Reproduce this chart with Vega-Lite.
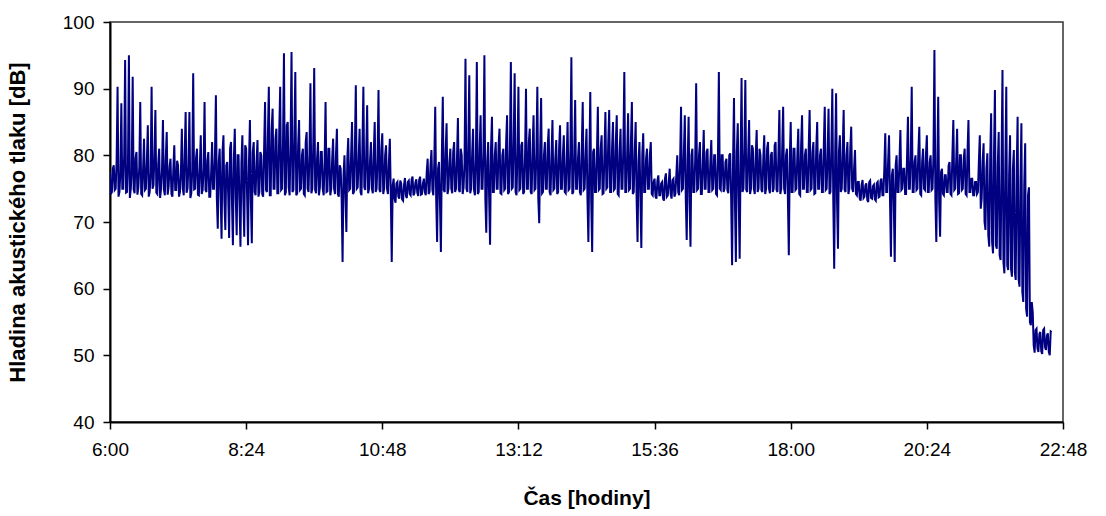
{
"$schema": "https://vega.github.io/schema/vega-lite/v6.json",
"autosize": "none",
"width": 953,
"height": 400,
"padding": {"left": 110, "top": 22, "right": 43, "bottom": 94},
"background": "white",
"config": {
  "font": "Liberation Sans",
  "view": {"stroke": "#333333", "strokeWidth": 1.5},
  "axis": {"labelFont": "Liberation Sans", "titleFont": "Liberation Sans", "labelFontSize": 19, "titleFontSize": 21, "titleFontWeight": "bold", "labelColor": "#000", "titleColor": "#000", "domainColor": "#000", "domainWidth": 2, "tickColor": "#000", "tickWidth": 1.5, "tickSize": 7, "grid": false}
},
"data": {"values": [
{"t":360,"v":77.5},{"t":361,"v":74.2},{"t":362,"v":74.5},{"t":363,"v":78},
{"t":364,"v":78.5},{"t":365,"v":74.8},{"t":366,"v":75},{"t":367,"v":79.2},
{"t":368,"v":90.3},{"t":369,"v":73.8},{"t":370,"v":74.5},{"t":371,"v":77.5},
{"t":372,"v":87.8},{"t":373,"v":75},{"t":374,"v":75},{"t":375,"v":80},
{"t":376,"v":94.3},{"t":377,"v":74.4},{"t":378,"v":74.5},{"t":379,"v":78.6},
{"t":380,"v":95},{"t":381,"v":73.6},{"t":382,"v":75},{"t":383,"v":77.8},
{"t":384,"v":91.8},{"t":385,"v":74.9},{"t":386,"v":74.3},{"t":387,"v":79.6},
{"t":388,"v":80.5},{"t":389,"v":74.1},{"t":390,"v":75.2},{"t":391,"v":78.3},
{"t":392,"v":88},{"t":393,"v":74.2},{"t":394,"v":74},{"t":395,"v":78},
{"t":396,"v":82.5},{"t":397,"v":74.8},{"t":398,"v":75},{"t":399,"v":79.2},
{"t":400,"v":84.5},{"t":401,"v":73.8},{"t":402,"v":74.5},{"t":403,"v":77.5},
{"t":404,"v":90.3},{"t":405,"v":75},{"t":406,"v":75.5},{"t":407,"v":80},
{"t":408,"v":86.8},{"t":409,"v":74.4},{"t":410,"v":74.2},{"t":411,"v":78.6},
{"t":412,"v":81},{"t":413,"v":73.6},{"t":414,"v":75},{"t":415,"v":77.8},
{"t":416,"v":85.3},{"t":417,"v":74.9},{"t":418,"v":74},{"t":419,"v":79.6},
{"t":420,"v":83.5},{"t":421,"v":74.1},{"t":422,"v":75.3},{"t":423,"v":78.3},
{"t":424,"v":79.5},{"t":425,"v":74.2},{"t":426,"v":73.8},{"t":427,"v":78},
{"t":428,"v":81.5},{"t":429,"v":74.8},{"t":430,"v":74.8},{"t":431,"v":79.2},
{"t":432,"v":78.5},{"t":433,"v":73.8},{"t":434,"v":74.5},{"t":435,"v":77.5},
{"t":436,"v":84},{"t":437,"v":75},{"t":438,"v":74},{"t":439,"v":80},
{"t":440,"v":86.5},{"t":441,"v":74.4},{"t":442,"v":75},{"t":443,"v":78.6},
{"t":444,"v":86.5},{"t":445,"v":73.6},{"t":446,"v":74.3},{"t":447,"v":77.8},
{"t":448,"v":92.3},{"t":449,"v":74.9},{"t":450,"v":75},{"t":451,"v":79.6},
{"t":452,"v":81},{"t":453,"v":74.1},{"t":454,"v":74},{"t":455,"v":78.3},
{"t":456,"v":83},{"t":457,"v":74.2},{"t":458,"v":74.8},{"t":459,"v":78},
{"t":460,"v":88},{"t":461,"v":74.8},{"t":462,"v":74.5},{"t":463,"v":79.2},
{"t":464,"v":80.5},{"t":465,"v":73.8},{"t":466,"v":73.8},{"t":467,"v":77.5},
{"t":468,"v":82},{"t":469,"v":75},{"t":470,"v":75},{"t":471,"v":80},
{"t":472,"v":89},{"t":473,"v":73.5},{"t":474,"v":69},{"t":475,"v":79},
{"t":476,"v":81},{"t":477,"v":74},{"t":478,"v":67.5},{"t":479,"v":80.5},
{"t":480,"v":83},{"t":481,"v":73.2},{"t":482,"v":68.8},{"t":483,"v":78.5},
{"t":484,"v":79},{"t":485,"v":74.2},{"t":486,"v":67.6},{"t":487,"v":81},
{"t":488,"v":82},{"t":489,"v":73},{"t":490,"v":66.5},{"t":491,"v":79.5},
{"t":492,"v":84},{"t":493,"v":73.8},{"t":494,"v":68},{"t":495,"v":80},
{"t":496,"v":80},{"t":497,"v":72.5},{"t":498,"v":66.3},{"t":499,"v":78.8},
{"t":500,"v":83},{"t":501,"v":73.5},{"t":502,"v":67.8},{"t":503,"v":81.5},
{"t":504,"v":81},{"t":505,"v":74},{"t":506,"v":66.5},{"t":507,"v":79},
{"t":508,"v":85.3},{"t":509,"v":73.2},{"t":510,"v":66.8},{"t":511,"v":80.5},
{"t":512,"v":82},{"t":513,"v":74.5},{"t":514,"v":74},{"t":515,"v":79},
{"t":516,"v":82.3},{"t":517,"v":73.8},{"t":518,"v":74.5},{"t":519,"v":80.5},
{"t":520,"v":80},{"t":521,"v":74.2},{"t":522,"v":73.8},{"t":523,"v":81},
{"t":524,"v":88},{"t":525,"v":74.8},{"t":526,"v":74.5},{"t":527,"v":83},
{"t":528,"v":90.3},{"t":529,"v":74},{"t":530,"v":74},{"t":531,"v":84},
{"t":532,"v":87},{"t":533,"v":75},{"t":534,"v":75},{"t":535,"v":82.5},
{"t":536,"v":84},{"t":537,"v":74.3},{"t":538,"v":74.3},{"t":539,"v":83.5},
{"t":540,"v":90.3},{"t":541,"v":74.8},{"t":542,"v":75},{"t":543,"v":82},
{"t":544,"v":95.3},{"t":545,"v":74},{"t":546,"v":74.5},{"t":547,"v":84.5},
{"t":548,"v":85},{"t":549,"v":75.2},{"t":550,"v":74},{"t":551,"v":82},
{"t":552,"v":95.5},{"t":553,"v":74.5},{"t":554,"v":74.8},{"t":555,"v":83},
{"t":556,"v":92.5},{"t":557,"v":74},{"t":558,"v":74.3},{"t":559,"v":81.5},
{"t":560,"v":85.3},{"t":561,"v":74.8},{"t":562,"v":75},{"t":563,"v":80},
{"t":564,"v":81},{"t":565,"v":74.2},{"t":566,"v":74},{"t":567,"v":82},
{"t":568,"v":83.5},{"t":569,"v":75},{"t":570,"v":74.5},{"t":571,"v":80.5},
{"t":572,"v":90.8},{"t":573,"v":74.3},{"t":574,"v":75},{"t":575,"v":81.5},
{"t":576,"v":93.1},{"t":577,"v":74.8},{"t":578,"v":74.3},{"t":579,"v":79.5},
{"t":580,"v":82},{"t":581,"v":74},{"t":582,"v":75.2},{"t":583,"v":80.5},
{"t":584,"v":80.5},{"t":585,"v":75},{"t":586,"v":74},{"t":587,"v":79},
{"t":588,"v":88},{"t":589,"v":74.5},{"t":590,"v":74.6},{"t":591,"v":81},
{"t":592,"v":81},{"t":593,"v":74},{"t":594,"v":75},{"t":595,"v":79.5},
{"t":596,"v":82.5},{"t":597,"v":75},{"t":598,"v":74.2},{"t":599,"v":80},
{"t":600,"v":84},{"t":601,"v":74.2},{"t":602,"v":73.8},{"t":603,"v":78.5},
{"t":604,"v":78},{"t":605,"v":73.5},{"t":606,"v":64},{"t":607,"v":77},
{"t":608,"v":80},{"t":609,"v":74},{"t":610,"v":68.5},{"t":611,"v":79.5},
{"t":612,"v":82.6},{"t":613,"v":74.8},{"t":614,"v":75},{"t":615,"v":80},
{"t":616,"v":85},{"t":617,"v":74.2},{"t":618,"v":74.5},{"t":619,"v":81},
{"t":620,"v":90.5},{"t":621,"v":75},{"t":622,"v":75.2},{"t":623,"v":79.5},
{"t":624,"v":84},{"t":625,"v":74.5},{"t":626,"v":74},{"t":627,"v":81.5},
{"t":628,"v":90.3},{"t":629,"v":75.2},{"t":630,"v":74.8},{"t":631,"v":80},
{"t":632,"v":87.5},{"t":633,"v":74.3},{"t":634,"v":75},{"t":635,"v":79},
{"t":636,"v":82},{"t":637,"v":75},{"t":638,"v":74.3},{"t":639,"v":80.5},
{"t":640,"v":85},{"t":641,"v":74.5},{"t":642,"v":75},{"t":643,"v":79.5},
{"t":644,"v":89.8},{"t":645,"v":74.8},{"t":646,"v":74.5},{"t":647,"v":81},
{"t":648,"v":83.3},{"t":649,"v":74.2},{"t":650,"v":75},{"t":651,"v":80},
{"t":652,"v":81.5},{"t":653,"v":75},{"t":654,"v":74.2},{"t":655,"v":79},
{"t":656,"v":82.5},{"t":657,"v":74},{"t":658,"v":64},{"t":659,"v":75.5},
{"t":660,"v":76.5},{"t":661,"v":73.5},{"t":662,"v":72.9},{"t":663,"v":75.8},
{"t":664,"v":76},{"t":665,"v":73.8},{"t":666,"v":73.5},{"t":667,"v":76.2},
{"t":668,"v":75.8},{"t":669,"v":73.4},{"t":670,"v":73.2},{"t":671,"v":75.6},
{"t":672,"v":76.6},{"t":673,"v":73.9},{"t":674,"v":73.6},{"t":675,"v":76},
{"t":676,"v":76.2},{"t":677,"v":74.2},{"t":678,"v":74},{"t":679,"v":76.4},
{"t":680,"v":76.8},{"t":681,"v":74},{"t":682,"v":74.3},{"t":683,"v":75.9},
{"t":684,"v":76.4},{"t":685,"v":74.4},{"t":686,"v":73.9},{"t":687,"v":76.3},
{"t":688,"v":76.8},{"t":689,"v":74.1},{"t":690,"v":74.2},{"t":691,"v":75.8},
{"t":692,"v":76.5},{"t":693,"v":74.5},{"t":694,"v":74},{"t":695,"v":77.5},
{"t":696,"v":79.5},{"t":697,"v":74.2},{"t":698,"v":74.5},{"t":699,"v":78.5},
{"t":700,"v":80.8},{"t":701,"v":74.8},{"t":702,"v":74},{"t":703,"v":79},
{"t":704,"v":87.3},{"t":705,"v":73.5},{"t":706,"v":67},{"t":707,"v":78},
{"t":708,"v":79},{"t":709,"v":73},{"t":710,"v":65.5},{"t":711,"v":80},
{"t":712,"v":88.8},{"t":713,"v":74.8},{"t":714,"v":74.5},{"t":715,"v":80.5},
{"t":716,"v":84.8},{"t":717,"v":74.2},{"t":718,"v":75},{"t":719,"v":79},
{"t":720,"v":81},{"t":721,"v":75},{"t":722,"v":74.3},{"t":723,"v":80.5},
{"t":724,"v":82},{"t":725,"v":74.5},{"t":726,"v":75},{"t":727,"v":79.5},
{"t":728,"v":85.6},{"t":729,"v":74.8},{"t":730,"v":74.5},{"t":731,"v":81},
{"t":732,"v":80},{"t":733,"v":74.2},{"t":734,"v":75.2},{"t":735,"v":79},
{"t":736,"v":94.5},{"t":737,"v":75},{"t":738,"v":74.5},{"t":739,"v":81.5},
{"t":740,"v":92},{"t":741,"v":74.3},{"t":742,"v":75},{"t":743,"v":80},
{"t":744,"v":84},{"t":745,"v":74.8},{"t":746,"v":74},{"t":747,"v":79.5},
{"t":748,"v":94},{"t":749,"v":74.2},{"t":750,"v":74.5},{"t":751,"v":81},
{"t":752,"v":86},{"t":753,"v":75},{"t":754,"v":75},{"t":755,"v":80.5},
{"t":756,"v":95},{"t":757,"v":73.5},{"t":758,"v":68.4},{"t":759,"v":79},
{"t":760,"v":82},{"t":761,"v":73.8},{"t":762,"v":66.6},{"t":763,"v":81},
{"t":764,"v":85.8},{"t":765,"v":74.5},{"t":766,"v":74.5},{"t":767,"v":80},
{"t":768,"v":82},{"t":769,"v":75},{"t":770,"v":75},{"t":771,"v":81.5},
{"t":772,"v":84},{"t":773,"v":74.3},{"t":774,"v":74.2},{"t":775,"v":80},
{"t":776,"v":81},{"t":777,"v":74.8},{"t":778,"v":75},{"t":779,"v":82},
{"t":780,"v":86},{"t":781,"v":74.2},{"t":782,"v":74.5},{"t":783,"v":81},
{"t":784,"v":94},{"t":785,"v":75},{"t":786,"v":75.2},{"t":787,"v":82.5},
{"t":788,"v":92.3},{"t":789,"v":74.5},{"t":790,"v":74},{"t":791,"v":80.5},
{"t":792,"v":90.3},{"t":793,"v":74.8},{"t":794,"v":75},{"t":795,"v":81.5},
{"t":796,"v":82},{"t":797,"v":74.2},{"t":798,"v":74.5},{"t":799,"v":80},
{"t":800,"v":90},{"t":801,"v":75},{"t":802,"v":75},{"t":803,"v":82},
{"t":804,"v":84},{"t":805,"v":74.5},{"t":806,"v":74.2},{"t":807,"v":81},
{"t":808,"v":86},{"t":809,"v":74.8},{"t":810,"v":75},{"t":811,"v":80.5},
{"t":812,"v":90.3},{"t":813,"v":73.5},{"t":814,"v":69.8},{"t":815,"v":81},
{"t":816,"v":88.6},{"t":817,"v":74.3},{"t":818,"v":74.5},{"t":819,"v":80},
{"t":820,"v":82},{"t":821,"v":75},{"t":822,"v":75},{"t":823,"v":81.5},
{"t":824,"v":84},{"t":825,"v":74.5},{"t":826,"v":74},{"t":827,"v":80},
{"t":828,"v":85.3},{"t":829,"v":74.8},{"t":830,"v":75},{"t":831,"v":79.5},
{"t":832,"v":82.3},{"t":833,"v":74.2},{"t":834,"v":74.5},{"t":835,"v":81},
{"t":836,"v":84.5},{"t":837,"v":75},{"t":838,"v":75},{"t":839,"v":80},
{"t":840,"v":83},{"t":841,"v":74.5},{"t":842,"v":74.3},{"t":843,"v":79.5},
{"t":844,"v":85},{"t":845,"v":74.8},{"t":846,"v":75},{"t":847,"v":81},
{"t":848,"v":94.7},{"t":849,"v":74.2},{"t":850,"v":74.5},{"t":851,"v":80},
{"t":852,"v":88.3},{"t":853,"v":75},{"t":854,"v":75},{"t":855,"v":79.5},
{"t":856,"v":82},{"t":857,"v":74.5},{"t":858,"v":74},{"t":859,"v":81},
{"t":860,"v":88},{"t":861,"v":74.8},{"t":862,"v":75},{"t":863,"v":80},
{"t":864,"v":84},{"t":865,"v":73.5},{"t":866,"v":67},{"t":867,"v":79},
{"t":868,"v":89.5},{"t":869,"v":73},{"t":870,"v":65.5},{"t":871,"v":80.5},
{"t":872,"v":81},{"t":873,"v":74.5},{"t":874,"v":74.5},{"t":875,"v":80},
{"t":876,"v":87.3},{"t":877,"v":74.8},{"t":878,"v":75},{"t":879,"v":81},
{"t":880,"v":83},{"t":881,"v":74.2},{"t":882,"v":74.3},{"t":883,"v":80.5},
{"t":884,"v":86.5},{"t":885,"v":75},{"t":886,"v":75.2},{"t":887,"v":82},
{"t":888,"v":86.8},{"t":889,"v":74.5},{"t":890,"v":74.5},{"t":891,"v":81},
{"t":892,"v":85},{"t":893,"v":74.8},{"t":894,"v":75},{"t":895,"v":82},
{"t":896,"v":86},{"t":897,"v":74.2},{"t":898,"v":74},{"t":899,"v":80.5},
{"t":900,"v":84},{"t":901,"v":75},{"t":902,"v":75},{"t":903,"v":81.5},
{"t":904,"v":92.5},{"t":905,"v":74.5},{"t":906,"v":74.5},{"t":907,"v":80},
{"t":908,"v":86.3},{"t":909,"v":74.8},{"t":910,"v":75},{"t":911,"v":82},
{"t":912,"v":88},{"t":913,"v":74.2},{"t":914,"v":74.5},{"t":915,"v":80.5},
{"t":916,"v":85},{"t":917,"v":73.5},{"t":918,"v":67},{"t":919,"v":79},
{"t":920,"v":82},{"t":921,"v":73.8},{"t":922,"v":66.1},{"t":923,"v":80},
{"t":924,"v":83.3},{"t":925,"v":74.5},{"t":926,"v":74.5},{"t":927,"v":79.5},
{"t":928,"v":81},{"t":929,"v":75},{"t":930,"v":75},{"t":931,"v":80},
{"t":932,"v":82},{"t":933,"v":74.2},{"t":934,"v":74},{"t":935,"v":76},
{"t":936,"v":76.5},{"t":937,"v":73.8},{"t":938,"v":73.5},{"t":939,"v":76.2},
{"t":940,"v":77},{"t":941,"v":74},{"t":942,"v":74},{"t":943,"v":75.8},
{"t":944,"v":76},{"t":945,"v":73.5},{"t":946,"v":73.2},{"t":947,"v":76.5},
{"t":948,"v":77.3},{"t":949,"v":73.8},{"t":950,"v":74},{"t":951,"v":76},
{"t":952,"v":78},{"t":953,"v":74.2},{"t":954,"v":73.5},{"t":955,"v":76.3},
{"t":956,"v":76.5},{"t":957,"v":73.8},{"t":958,"v":74.2},{"t":959,"v":77},
{"t":960,"v":80},{"t":961,"v":74.5},{"t":962,"v":74},{"t":963,"v":79},
{"t":964,"v":87.3},{"t":965,"v":74.8},{"t":966,"v":75},{"t":967,"v":80.5},
{"t":968,"v":86},{"t":969,"v":73.5},{"t":970,"v":67.3},{"t":971,"v":79},
{"t":972,"v":85.8},{"t":973,"v":73},{"t":974,"v":66.3},{"t":975,"v":80},
{"t":976,"v":81},{"t":977,"v":74.5},{"t":978,"v":74.5},{"t":979,"v":79.5},
{"t":980,"v":90.8},{"t":981,"v":74.8},{"t":982,"v":75},{"t":983,"v":80},
{"t":984,"v":82},{"t":985,"v":74.2},{"t":986,"v":74.2},{"t":987,"v":79},
{"t":988,"v":83.8},{"t":989,"v":75},{"t":990,"v":75},{"t":991,"v":80.5},
{"t":992,"v":81},{"t":993,"v":74.5},{"t":994,"v":74.5},{"t":995,"v":79},
{"t":996,"v":82.3},{"t":997,"v":74.8},{"t":998,"v":75},{"t":999,"v":80},
{"t":1000,"v":80},{"t":1001,"v":74.2},{"t":1002,"v":74},{"t":1003,"v":79.5},
{"t":1004,"v":92.5},{"t":1005,"v":75},{"t":1006,"v":74.8},{"t":1007,"v":80},
{"t":1008,"v":80},{"t":1009,"v":74.5},{"t":1010,"v":75},{"t":1011,"v":79},
{"t":1012,"v":79.5},{"t":1013,"v":74.8},{"t":1014,"v":74.3},{"t":1015,"v":80},
{"t":1016,"v":80.3},{"t":1017,"v":73.5},{"t":1018,"v":63.5},{"t":1019,"v":79},
{"t":1020,"v":88.6},{"t":1021,"v":73},{"t":1022,"v":64},{"t":1023,"v":80.5},
{"t":1024,"v":84.8},{"t":1025,"v":73.5},{"t":1026,"v":64.5},{"t":1027,"v":79.5},
{"t":1028,"v":91.6},{"t":1029,"v":74.5},{"t":1030,"v":75},{"t":1031,"v":81},
{"t":1032,"v":91.3},{"t":1033,"v":74.8},{"t":1034,"v":74.5},{"t":1035,"v":80},
{"t":1036,"v":85.3},{"t":1037,"v":74.2},{"t":1038,"v":75},{"t":1039,"v":81.5},
{"t":1040,"v":81},{"t":1041,"v":75},{"t":1042,"v":74.2},{"t":1043,"v":80},
{"t":1044,"v":83.8},{"t":1045,"v":74.5},{"t":1046,"v":75},{"t":1047,"v":81},
{"t":1048,"v":80},{"t":1049,"v":74.8},{"t":1050,"v":74.5},{"t":1051,"v":79.5},
{"t":1052,"v":83},{"t":1053,"v":74.2},{"t":1054,"v":75},{"t":1055,"v":81},
{"t":1056,"v":82},{"t":1057,"v":75},{"t":1058,"v":74.3},{"t":1059,"v":80},
{"t":1060,"v":80.5},{"t":1061,"v":74.5},{"t":1062,"v":75},{"t":1063,"v":81.5},
{"t":1064,"v":82},{"t":1065,"v":74.8},{"t":1066,"v":74.5},{"t":1067,"v":80},
{"t":1068,"v":86.8},{"t":1069,"v":74.2},{"t":1070,"v":75},{"t":1071,"v":81},
{"t":1072,"v":87.3},{"t":1073,"v":75},{"t":1074,"v":74.2},{"t":1075,"v":80},
{"t":1076,"v":81},{"t":1077,"v":73.5},{"t":1078,"v":65},{"t":1079,"v":79.5},
{"t":1080,"v":85},{"t":1081,"v":74.5},{"t":1082,"v":74.5},{"t":1083,"v":81},
{"t":1084,"v":81},{"t":1085,"v":74.8},{"t":1086,"v":75},{"t":1087,"v":80},
{"t":1088,"v":84},{"t":1089,"v":74.2},{"t":1090,"v":74},{"t":1091,"v":81.5},
{"t":1092,"v":86},{"t":1093,"v":75},{"t":1094,"v":75},{"t":1095,"v":80},
{"t":1096,"v":81},{"t":1097,"v":74.5},{"t":1098,"v":74.5},{"t":1099,"v":81},
{"t":1100,"v":86.8},{"t":1101,"v":74.8},{"t":1102,"v":75},{"t":1103,"v":80.5},
{"t":1104,"v":82},{"t":1105,"v":74.2},{"t":1106,"v":74.3},{"t":1107,"v":81},
{"t":1108,"v":85},{"t":1109,"v":75},{"t":1110,"v":75},{"t":1111,"v":80},
{"t":1112,"v":81},{"t":1113,"v":74.5},{"t":1114,"v":74.5},{"t":1115,"v":81.5},
{"t":1116,"v":87.3},{"t":1117,"v":74.8},{"t":1118,"v":75},{"t":1119,"v":80},
{"t":1120,"v":87},{"t":1121,"v":74.2},{"t":1122,"v":74.5},{"t":1123,"v":81},
{"t":1124,"v":90},{"t":1125,"v":73.5},{"t":1126,"v":63},{"t":1127,"v":80},
{"t":1128,"v":89.3},{"t":1129,"v":73},{"t":1130,"v":66},{"t":1131,"v":80.5},
{"t":1132,"v":83},{"t":1133,"v":74.5},{"t":1134,"v":75},{"t":1135,"v":81},
{"t":1136,"v":86.8},{"t":1137,"v":74.8},{"t":1138,"v":74.5},{"t":1139,"v":80},
{"t":1140,"v":82},{"t":1141,"v":74.2},{"t":1142,"v":75},{"t":1143,"v":81},
{"t":1144,"v":84.3},{"t":1145,"v":75},{"t":1146,"v":74.5},{"t":1147,"v":78},
{"t":1148,"v":80.8},{"t":1149,"v":74.2},{"t":1150,"v":74},{"t":1151,"v":76},
{"t":1152,"v":76},{"t":1153,"v":73.5},{"t":1154,"v":73.2},{"t":1155,"v":75.6},
{"t":1156,"v":76.3},{"t":1157,"v":73.6},{"t":1158,"v":73.8},{"t":1159,"v":75.5},
{"t":1160,"v":75.8},{"t":1161,"v":73.3},{"t":1162,"v":73},{"t":1163,"v":76},
{"t":1164,"v":76.2},{"t":1165,"v":73.6},{"t":1166,"v":73.5},{"t":1167,"v":75.4},
{"t":1168,"v":75.6},{"t":1169,"v":73.4},{"t":1170,"v":73.2},{"t":1171,"v":75.8},
{"t":1172,"v":76},{"t":1173,"v":73.7},{"t":1174,"v":73.8},{"t":1175,"v":76.2},
{"t":1176,"v":76.5},{"t":1177,"v":74},{"t":1178,"v":74},{"t":1179,"v":78},
{"t":1180,"v":83.3},{"t":1181,"v":74.5},{"t":1182,"v":74.5},{"t":1183,"v":79},
{"t":1184,"v":83},{"t":1185,"v":73.5},{"t":1186,"v":64.8},{"t":1187,"v":77},
{"t":1188,"v":78},{"t":1189,"v":73},{"t":1190,"v":64},{"t":1191,"v":78.5},
{"t":1192,"v":80},{"t":1193,"v":74.5},{"t":1194,"v":74.5},{"t":1195,"v":79},
{"t":1196,"v":83.8},{"t":1197,"v":74.8},{"t":1198,"v":75},{"t":1199,"v":78},
{"t":1200,"v":78},{"t":1201,"v":74.2},{"t":1202,"v":74.2},{"t":1203,"v":79.5},
{"t":1204,"v":85.8},{"t":1205,"v":75},{"t":1206,"v":75},{"t":1207,"v":80},
{"t":1208,"v":90.3},{"t":1209,"v":74.5},{"t":1210,"v":74.5},{"t":1211,"v":79},
{"t":1212,"v":80},{"t":1213,"v":74.8},{"t":1214,"v":75},{"t":1215,"v":80.5},
{"t":1216,"v":84.3},{"t":1217,"v":74.2},{"t":1218,"v":74},{"t":1219,"v":79},
{"t":1220,"v":81},{"t":1221,"v":75},{"t":1222,"v":74.8},{"t":1223,"v":80},
{"t":1224,"v":83},{"t":1225,"v":74.5},{"t":1226,"v":74.5},{"t":1227,"v":79},
{"t":1228,"v":80},{"t":1229,"v":74.8},{"t":1230,"v":75},{"t":1231,"v":80},
{"t":1232,"v":95.8},{"t":1233,"v":73.5},{"t":1234,"v":67},{"t":1235,"v":78},
{"t":1236,"v":88.8},{"t":1237,"v":73},{"t":1238,"v":67.8},{"t":1239,"v":77.5},
{"t":1240,"v":78},{"t":1241,"v":74.2},{"t":1242,"v":74},{"t":1243,"v":77},
{"t":1244,"v":77},{"t":1245,"v":74.5},{"t":1246,"v":74.5},{"t":1247,"v":78.5},
{"t":1248,"v":79},{"t":1249,"v":74.2},{"t":1250,"v":74},{"t":1251,"v":80},
{"t":1252,"v":85.3},{"t":1253,"v":74.8},{"t":1254,"v":75},{"t":1255,"v":79},
{"t":1256,"v":84},{"t":1257,"v":74.2},{"t":1258,"v":74.3},{"t":1259,"v":80},
{"t":1260,"v":80},{"t":1261,"v":74.8},{"t":1262,"v":75},{"t":1263,"v":79.5},
{"t":1264,"v":81},{"t":1265,"v":74.2},{"t":1266,"v":74},{"t":1267,"v":80.5},
{"t":1268,"v":85.3},{"t":1269,"v":74.5},{"t":1270,"v":74.5},{"t":1271,"v":76.5},
{"t":1272,"v":76.5},{"t":1273,"v":74},{"t":1274,"v":74},{"t":1275,"v":76},
{"t":1276,"v":76},{"t":1277,"v":74.2},{"t":1278,"v":74.5},{"t":1279,"v":79},
{"t":1280,"v":83},{"t":1281,"v":72},{"t":1282,"v":73.5},{"t":1283,"v":79},
{"t":1284,"v":81.8},{"t":1285,"v":70},{"t":1286,"v":68.8},{"t":1287,"v":78},
{"t":1288,"v":80.3},{"t":1289,"v":68},{"t":1290,"v":66.3},{"t":1291,"v":79.5},
{"t":1292,"v":86.3},{"t":1293,"v":67},{"t":1294,"v":65.3},{"t":1295,"v":80},
{"t":1296,"v":89.8},{"t":1297,"v":66.5},{"t":1298,"v":66},{"t":1299,"v":78.5},
{"t":1300,"v":83.5},{"t":1301,"v":65},{"t":1302,"v":64.3},{"t":1303,"v":79},
{"t":1304,"v":92.8},{"t":1305,"v":64},{"t":1306,"v":62.3},{"t":1307,"v":78},
{"t":1308,"v":90.3},{"t":1309,"v":63.5},{"t":1310,"v":62.8},{"t":1311,"v":77},
{"t":1312,"v":83},{"t":1313,"v":63},{"t":1314,"v":61.8},{"t":1315,"v":78},
{"t":1316,"v":80.8},{"t":1317,"v":62.5},{"t":1318,"v":61.3},{"t":1319,"v":77.5},
{"t":1320,"v":85.8},{"t":1321,"v":61.5},{"t":1322,"v":60.3},{"t":1323,"v":76},
{"t":1324,"v":84.8},{"t":1325,"v":59.5},{"t":1326,"v":58},{"t":1327,"v":75.5},
{"t":1328,"v":81.8},{"t":1329,"v":57},{"t":1330,"v":55.8},{"t":1331,"v":74},
{"t":1332,"v":75.2},{"t":1333,"v":55},{"t":1334,"v":54.5},{"t":1335,"v":58},
{"t":1336,"v":56.5},{"t":1337,"v":51.5},{"t":1338,"v":50.4},{"t":1339,"v":53.8},
{"t":1340,"v":54},{"t":1341,"v":51},{"t":1342,"v":50.5},{"t":1343,"v":53.2},
{"t":1344,"v":53.5},{"t":1345,"v":50.6},{"t":1346,"v":50.2},{"t":1347,"v":53.8},
{"t":1348,"v":54},{"t":1349,"v":51.2},{"t":1350,"v":50.8},{"t":1351,"v":53},
{"t":1352,"v":53.3},{"t":1353,"v":50.5},{"t":1354,"v":50},{"t":1355,"v":53.6},
{"t":1356,"v":53.5}
]},
"mark": {"type": "line", "color": "#000080", "strokeWidth": 2, "strokeJoin": "miter", "clip": true},
"encoding": {
  "x": {"field": "t", "type": "quantitative", "scale": {"domain": [360, 1368], "nice": false, "zero": false},
        "axis": {"title": "Čas [hodiny]", "values": [360, 504, 648, 792, 936, 1080, 1224, 1368], "labelExpr": "floor(datum.value/60) + ':' + (datum.value%60 < 10 ? '0' : '') + (datum.value%60)", "labelPadding": 11, "titlePadding": 28, "labelFlush": false}},
  "y": {"field": "v", "type": "quantitative", "scale": {"domain": [40, 100], "nice": false, "zero": false},
        "axis": {"title": "Hladina akustického tlaku [dB]", "titleFontSize": 22, "values": [40, 50, 60, 70, 80, 90, 100], "labelPadding": 9, "titlePadding": 33}}
}
}
